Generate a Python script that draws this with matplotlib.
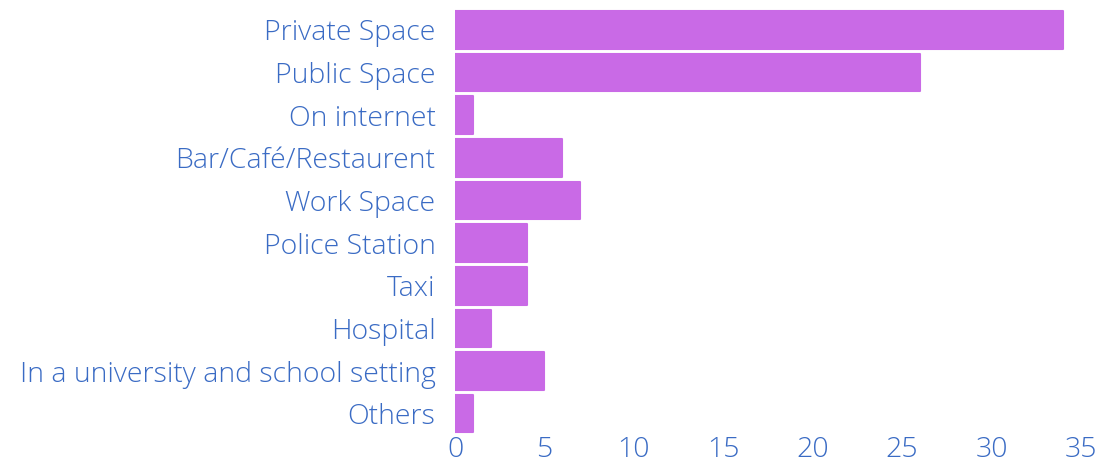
import matplotlib
matplotlib.use("Agg")
import matplotlib.pyplot as plt

# data
categories = [
    "Private Space",
    "Public Space",
    "On internet",
    "Bar/Café/Restaurent",
    "Work Space",
    "Police Station",
    "Taxi",
    "Hospital",
    "In a university and school setting",
    "Others",
]
counts = [34, 26, 1, 6, 7, 4, 4, 2, 5, 1]
x_ticks = [0, 5, 10, 15, 20, 25, 30, 35]

BAR_COLOR = "#c96ae6"
TEXT_COLOR = "#3a6bc4"

plt.rcParams["font.family"] = ["Open Sans", "DejaVu Sans"]

fig = plt.figure(figsize=(11.01, 4.68), dpi=100)
ax = fig.add_axes([0.4133, 0.0705, 0.5685, 0.911])

ypos = list(range(len(categories)))
ax.barh(
    ypos,
    counts,
    height=0.88,
    color=BAR_COLOR,
    edgecolor=BAR_COLOR,
    linewidth=1.5,
    joinstyle="round",
)

ax.set_ylim(len(categories) - 0.5, -0.5)
ax.set_xlim(0, 35)
ax.set_xticks(x_ticks)
ax.set_yticks(ypos)
ax.set_yticklabels(categories)

ax.tick_params(axis="both", length=0, labelsize=20.5, colors=TEXT_COLOR)
ax.tick_params(axis="y", pad=14)
ax.tick_params(axis="x", pad=1)
for lab in ax.get_xticklabels() + ax.get_yticklabels():
    lab.set_fontweight(300)

for s in ax.spines.values():
    s.set_visible(False)

fig.savefig("out.png", dpi=100)
